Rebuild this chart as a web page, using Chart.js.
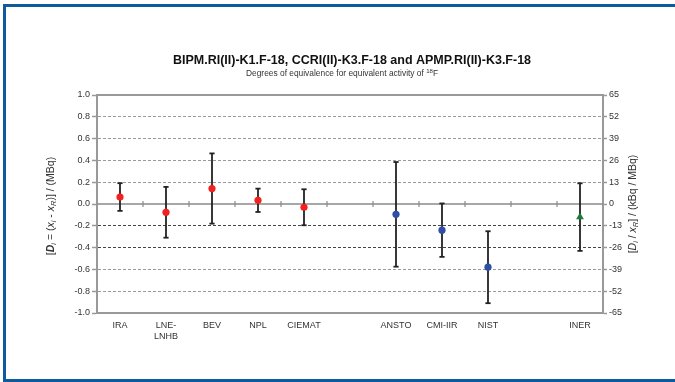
<!DOCTYPE html>
<html><head><meta charset="utf-8">
<script src="https://cdn.jsdelivr.net/npm/chart.js@4.4.0/dist/chart.umd.min.js"></script>
<style>
html,body{margin:0;padding:0;background:#fff;}
#wrap{position:relative;width:675px;height:382px;overflow:hidden;background:#fff;}
#frame{position:absolute;left:3px;top:4px;width:700px;height:372px;border:3px solid #0b5b9e;border-right:none;}
canvas{position:absolute;left:0;top:0;}
</style></head>
<body><div id="wrap"><div id="frame"></div><canvas id="c" width="675" height="382"></canvas></div>
<script>
// ---- data ----
const categories = ['IRA', 'LNE-\nLNHB', 'BEV', 'NPL', 'CIEMAT', '', 'ANSTO', 'CMI-IIR', 'NIST', '', 'INER'];
const dValues    = [0.064, -0.076, 0.142, 0.034, -0.030, null, -0.095, -0.240, -0.580, null, -0.120];
const dUncert    = [0.127,  0.233, 0.322, 0.107,  0.165, null,  0.480,  0.245,  0.330, null,  0.310];
const groups     = ['BIPM','BIPM','BIPM','BIPM','BIPM', null, 'CCRI','CCRI','CCRI', null, 'APMP'];
const leftTicks  = [-1.0, -0.8, -0.6, -0.4, -0.2, 0.0, 0.2, 0.4, 0.6, 0.8, 1.0];
const rightTicks = [-65, -52, -39, -26, -13, 0, 13, 26, 39, 52, 65];
const titleText  = 'BIPM.RI(II)-K1.F-18, CCRI(II)-K3.F-18 and APMP.RI(II)-K3.F-18';

const groupColor = {BIPM:'#f2211f', CCRI:'#2f4ea6', APMP:'#1d7a3c'};
const groupShape = {BIPM:'circle', CCRI:'circle', APMP:'triangle'};
const FONT = '"Liberation Sans", Arial, sans-serif';

function line(ctx,x1,y1,x2,y2){ctx.beginPath();ctx.moveTo(x1,y1);ctx.lineTo(x2,y2);ctx.stroke();}

function segFont(s,size){
  const sz = (s.sub||s.sup)? size*0.72 : size;
  return (s.i?'italic ':'')+(s.b?'bold ':'')+sz.toFixed(2)+'px '+FONT;
}
function richWidth(ctx, segs, size){
  let w=0;
  segs.forEach(s=>{ctx.font=segFont(s,size); w+=ctx.measureText(s.t).width;});
  return w;
}
function drawRich(ctx, segs, size, cx, cy, color){
  const w = richWidth(ctx, segs, size);
  let x = cx - w/2;
  ctx.fillStyle = color; ctx.textBaseline='middle'; ctx.textAlign='left';
  segs.forEach(s=>{
    ctx.font = segFont(s,size);
    const dy = s.sub ? size*0.3 : (s.sup ? -size*0.35 : 0);
    ctx.fillText(s.t, x, cy+dy);
    x += ctx.measureText(s.t).width;
  });
}

const decor = {
  id:'decor',
  beforeDatasetsDraw(chart){
    const {ctx, chartArea:a, scales:{x,y}} = chart;
    const y0 = y.getPixelForValue(0);
    ctx.save();
    ctx.strokeStyle='#8a8a8a'; ctx.lineWidth=1.5;
    line(ctx,a.left,y0,a.right,y0);
    ctx.lineWidth=1.2;
    for(let i=0;i<categories.length-1;i++){
      const xm=(x.getPixelForValue(i)+x.getPixelForValue(i+1))/2;
      line(ctx,xm,y0-3,xm,y0+3);
    }
    ctx.strokeStyle='#222'; ctx.lineWidth=1.8;
    dValues.forEach((v,i)=>{
      if(v===null) return;
      const xp=x.getPixelForValue(i);
      const yt=y.getPixelForValue(v+dUncert[i]);
      const yb=y.getPixelForValue(v-dUncert[i]);
      line(ctx,xp,yt,xp,yb);
      line(ctx,xp-2.6,yt,xp+2.6,yt);
      line(ctx,xp-2.6,yb,xp+2.6,yb);
    });
    ctx.strokeStyle='#999'; ctx.lineWidth=2;
    line(ctx,a.left-1,a.top,a.right+1,a.top);
    ctx.restore();
  },
  afterDraw(chart){
    const {ctx, chartArea:a} = chart;
    const cx=(a.left+a.right)/2;
    ctx.save();
    ctx.fillStyle='#111'; ctx.textAlign='center'; ctx.textBaseline='middle';
    ctx.font='bold 12.5px '+FONT;
    ctx.fillText(titleText, cx+2, 61);
    drawRich(ctx,[{t:'Degrees of equivalence for equivalent activity of '},{t:'18',sup:true},{t:'F'}],8.4,cx-8,74,'#333');
    ctx.save();
    ctx.translate(51,(a.top+a.bottom)/2+2); ctx.rotate(-Math.PI/2);
    drawRich(ctx,[{t:'['},{t:'D',b:true,i:true},{t:'i',sub:true,i:true},{t:' = ('},{t:'x',i:true},{t:'i',sub:true,i:true},{t:' - '},{t:'x',i:true},{t:'R',sub:true,i:true},{t:')] / (MBq)'}],10.5,0,0,'#333');
    ctx.restore();
    ctx.save();
    ctx.translate(633,(a.top+a.bottom)/2); ctx.rotate(-Math.PI/2);
    drawRich(ctx,[{t:'['},{t:'D',i:true},{t:'i',sub:true,i:true},{t:' / '},{t:'x',i:true},{t:'R',sub:true,i:true},{t:'] / (kBq / MBq)'}],10.5,0,0,'#333');
    ctx.restore();
    ctx.restore();
  }
};

const pointColors = groups.map(g=>g?groupColor[g]:'transparent');
const pointShapes = groups.map(g=>g?groupShape[g]:'circle');

new Chart(document.getElementById('c'),{
  type:'line',
  data:{
    labels: categories.map(c=>c.includes('\n')?c.split('\n'):c),
    datasets:[{
      data: dValues,
      showLine:false,
      pointStyle: pointShapes,
      pointRadius: groups.map(g=>g==='APMP'?4.5:3.6),
      pointBackgroundColor: pointColors,
      pointBorderColor: pointColors,
      pointBorderWidth: 0,
      yAxisID:'y'
    }]
  },
  options:{
    responsive:false, animation:false,
    layout:{padding:{left:57,right:32,top:95,bottom:29}},
    plugins:{legend:{display:false},tooltip:{enabled:false},title:{display:false}},
    scales:{
      x:{
        type:'category', offset:true,
        grid:{display:false, drawTicks:false},
        border:{display:true,color:'#999',width:2},
        ticks:{font:{family:FONT,size:9},color:'#333',padding:7,maxRotation:0,autoSkip:false},
        afterFit:s=>{s.height=40;}
      },
      y:{
        position:'left', min:-1, max:1,
        afterBuildTicks:s=>{s.ticks=leftTicks.map(v=>({value:v}));},
        ticks:{font:{family:FONT,size:9},color:'#333',padding:2,callback:v=>v.toFixed(1)},
        grid:{
          color:c=>{const v=c.tick?Math.round(c.tick.value*10)/10:null;
            if(v===0||v===1||v===-1) return 'rgba(0,0,0,0)';
            if(v===-0.2||v===-0.4) return '#444';
            return '#9a9a9a';},
          lineWidth:1, tickLength:5, tickColor:'#999', tickWidth:1.5
        },
        border:{display:true,color:'#999',width:2,dash:[3,2]},
        afterFit:s=>{s.width=40;}
      },
      y2:{
        position:'right', min:-65, max:65,
        afterBuildTicks:s=>{s.ticks=rightTicks.map(v=>({value:v}));},
        ticks:{font:{family:FONT,size:9},color:'#333',padding:2,callback:v=>String(v)},
        grid:{drawOnChartArea:false, tickLength:4, tickColor:'#999', tickWidth:1.5},
        border:{display:true,color:'#999',width:2},
        afterFit:s=>{s.width=40;}
      }
    }
  },
  plugins:[decor]
});
</script>
</body></html>
